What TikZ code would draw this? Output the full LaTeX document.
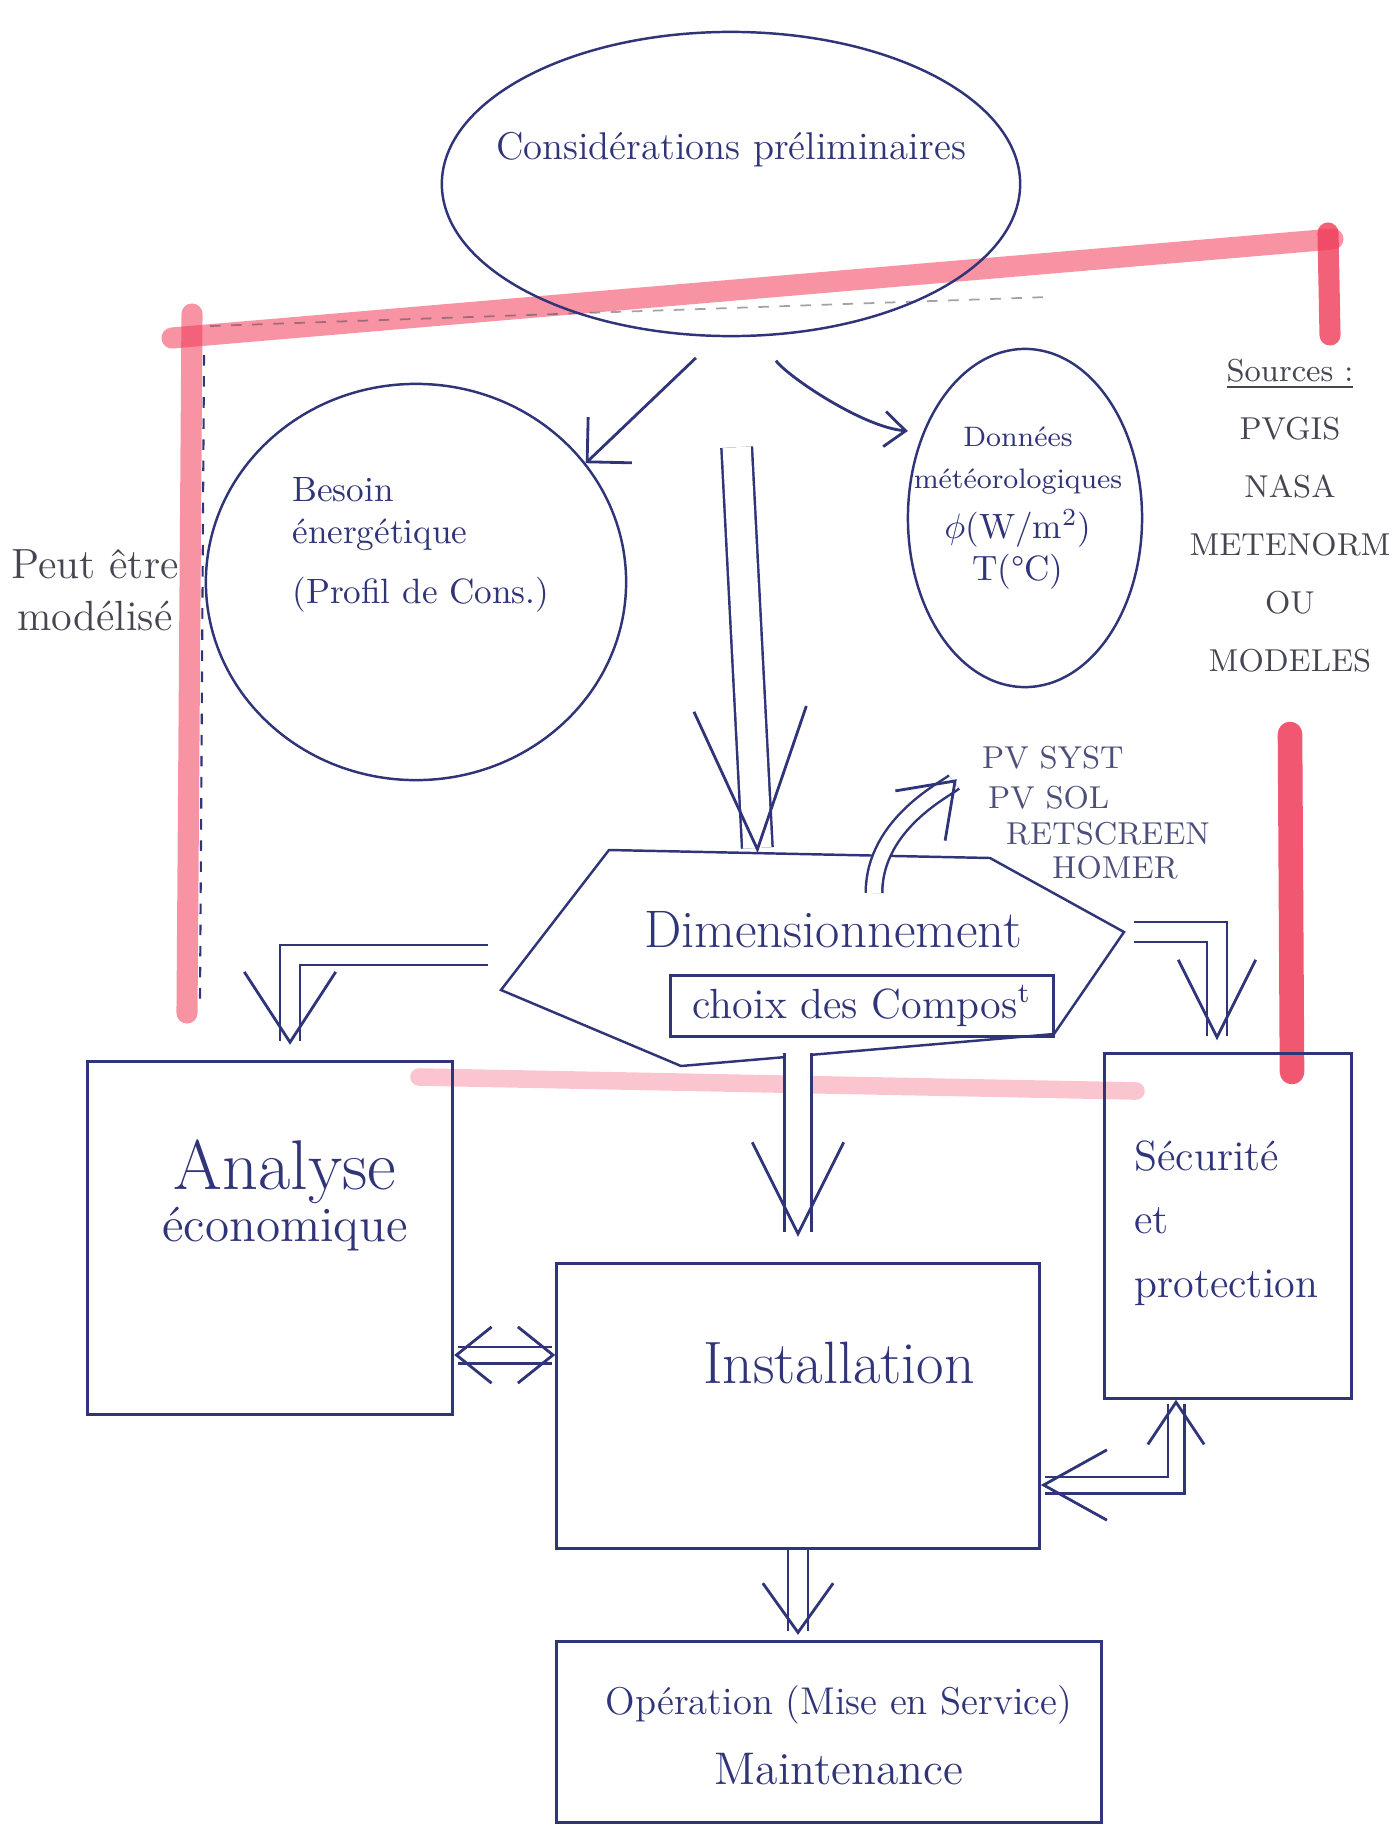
\documentclass[tikz,border=0pt]{standalone}
\usepackage{amsmath}
\usepackage{tikz}
\usetikzlibrary{arrows.meta,shapes.geometric,positioning,calc}
\definecolor{inkblue}  {RGB}{48,52,120}
\definecolor{inkgray}  {RGB}{70,70,82}
\definecolor{markred}  {RGB}{240,58,88}
\definecolor{markpink} {RGB}{246,140,160}

\begin{document}
\begin{tikzpicture}[
  x=0.01cm, y=-0.01cm,
  >=Stealth,
  hand/.style={text=inkblue,align=center},
  pencil/.style={text=inkgray,align=center},
  softlbl/.style={text=inkblue!65!gray,anchor=west,font=\fontsize{9}{11}\selectfont,inner sep=1pt},
  bubble/.style 2 args={ellipse,draw=inkblue,line width=0.7pt,minimum width=#1,
                        minimum height=#2,inner sep=0pt},
  sbox/.style 2 args={rectangle,draw=inkblue,line width=0.9pt,minimum width=#1,
                      minimum height=#2,inner sep=0pt},
  vhead/.style 2 args={Straight Barb[length=#1,width=#2,line width'=0.8pt]},
  dbl/.style={draw=inkblue,line width=0.7pt,double=white,double distance=5pt,
              -{Straight Barb[length=14pt,width=20pt,line width'=0.8pt]}},
  dblbig/.style={draw=inkblue,line width=0.7pt,double=white,double distance=8pt,
              -{Straight Barb[length=40pt,width=32pt,line width'=0.8pt]}},
  dblboth/.style={draw=inkblue,line width=0.7pt,double=white,double distance=4pt,
              {Straight Barb[length=10pt,width=16pt,line width'=0.8pt]}-{Straight Barb[length=10pt,width=16pt,line width'=0.8pt]}},
  barb/.style={draw=inkblue,line width=0.8pt,-{Straight Barb[length=9pt,width=18pt]}},
  marker/.style={draw=markred,line width=6pt,opacity=0.55,line cap=round},
]
\useasboundingbox (0,0) rectangle (1393,1827);

%% ── Red highlighter frame ────────────────────────────────────────────────────
\draw[marker] (172,338) -- (1333,239);
\draw[marker,opacity=0.8] (1328,233) -- (1330,335);
\draw[marker] (192,314) -- (187,1013);
\draw[marker,line width=7pt,opacity=0.85] (1290,734) -- (1292,1072);
\draw[marker,draw=markpink,line width=5pt,opacity=0.5] (419,1077) -- (1136,1091);
\draw[inkblue,dashed,line width=0.6pt] (204,355) -- (200,1002);
\draw[inkgray,dashed,line width=0.5pt,opacity=0.5] (210,326) -- (1048,297);

%% ── Top bubble ───────────────────────────────────────────────────────────────
\node[bubble={5.78cm}{3.04cm}] (cons) at (731,184) {};
\node[hand,font=\fontsize{11}{13}\selectfont] at (731,150) {Considérations préliminaires};

%% ── Energy needs ─────────────────────────────────────────────────────────────
\node[bubble={4.2cm}{3.96cm}] (besoin) at (416,582) {};
\node[hand,align=left,anchor=west,font=\fontsize{10}{12}\selectfont] (besointxt) at (280,545)
  {Besoin\\énergétique\\[5pt](Profil de Cons.)};

%% ── Weather data ─────────────────────────────────────────────────────────────
\node[bubble={2.34cm}{3.38cm}] (meteo) at (1025,518) {};
\node[hand,font=\fontsize{8}{12}\selectfont] (meteotxt) at (1018,508)
  {Données\\météorologiques\\[2pt]{\fontsize{10}{12}\selectfont $\phi$(W/m\textsuperscript{2})}\\
   {\fontsize{10}{12}\selectfont T(\textdegree C)}};

\node[pencil,font=\fontsize{9}{16.5}\selectfont] (sources) at (1290,516)
  {\underline{Sources :}\\PVGIS\\NASA\\METENORM\\OU\\MODELES};
\node[pencil,font=\fontsize{12}{15}\selectfont] (peut) at (95,590) {Peut être\\modélisé};

%% ── Sizing (hexagon) ─────────────────────────────────────────────────────────
\coordinate (d1) at (609,850);
\coordinate (d2) at (990,858);
\coordinate (d3) at (1124,932);
\coordinate (d4) at (1054,1034);
\coordinate (d5) at (681,1066);
\coordinate (d6) at (501,990);
\draw[inkblue,line width=0.7pt] (d1) -- (d2) -- (d3) -- (d4) -- (d5) -- (d6) -- cycle;
\node[hand,font=\fontsize{15}{18}\selectfont] (dim) at (833,930) {Dimensionnement};
\node[sbox={3.82cm}{0.61cm},hand,font=\fontsize{12}{14}\selectfont] (choix) at (862,1006)
  {choix des Compos\textsuperscript{t}};
\coordinate (dimtop) at ($(d1)!0.39!(d2)$);
\coordinate (dimleft) at ($(d6)!0.25!(d1)$);
\coordinate (dimpv) at (874,893);

%% ── Software ─────────────────────────────────────────────────────────────────
\node[softlbl] (pvsyst) at (978,758) {PV SYST};
\node[softlbl] (pvsol) at (984,798) {PV SOL};
\node[softlbl] (retscreen) at (1002,834) {RETSCREEN};
\node[softlbl] (homer) at (1048,868) {HOMER};

%% ── Boxes ────────────────────────────────────────────────────────────────────
\node[sbox={3.65cm}{3.53cm}] (analyse) at (270,1238) {};
\node[hand] (analysetxt) at (285,1195)
  {{\fontsize{20}{24}\selectfont Analyse}\\{\fontsize{14}{17}\selectfont économique}};

\node[sbox={4.82cm}{2.85cm}] (install) at (798,1406) {};
\node[hand,font=\fontsize{17}{20}\selectfont] (installtxt) at (839,1363) {Installation};

\node[sbox={2.47cm}{3.44cm}] (secu) at (1228,1226) {};
\node[hand,align=left,anchor=west,font=\fontsize{12}{18}\selectfont] (secutxt) at (1122,1223)
  {Sécurité\\et\\protection};

\node[sbox={5.44cm}{1.81cm}] (oper) at (829,1732) {};
\node[hand,font=\fontsize{11}{20}\selectfont] (opertxt) at (839,1735)
  {Opération (Mise en Service)\\{\fontsize{13}{20}\selectfont Maintenance}};

%% ── Connectors ───────────────────────────────────────────────────────────────
\draw[barb,shorten <=0.3cm] (cons.265) -- (besoin.35);
\draw[draw=inkblue,line width=0.8pt,-{Straight Barb[length=6pt,width=10pt]},shorten <=0.3cm,shorten >=0.15cm]
  (cons.280) .. controls +(30,40) and +(-60,-5) .. (meteo.140);
\draw[dblbig,shorten <=1.1cm] (cons.south) -- (dimtop);
\draw[dbl,double distance=4pt,shorten >=0.3cm] (dimpv) .. controls +(0,-70) and +(-30,30) .. (pvsyst.west);
\draw[dbl,-{Straight Barb[length=22pt,width=22pt,line width'=0.8pt]},shorten <=0.1cm,shorten >=0.12cm]
  (d3) -| ([xshift=-0.11cm]secu.north);
\draw[dbl,-{Straight Barb[length=20pt,width=26pt,line width'=0.8pt]},shorten <=0.4cm,shorten >=0.15cm]
  (dimleft) -| ([xshift=0.2cm]analyse.north);
\draw[dbl,double distance=7pt,-{Straight Barb[length=26pt,width=26pt,line width'=0.8pt]},
  shorten <=0.15cm,shorten >=0.25cm] (choix.south -| install.north) -- (install.north);
\coordinate (ai) at (0,1355);
\draw[dblboth] (analyse.east |- ai) -- (install.west |- ai);
\coordinate (is) at (1176,1485);
\draw[dblboth,{Straight Barb[length=18pt,width=20pt,line width'=0.8pt]}-{Straight Barb[length=12pt,width=16pt,line width'=0.8pt]}]
  (install.east |- is) -| (secu.south -| is);
\draw[dbl,shorten >=0.05cm] (install.south) -- (install.south |- oper.north);

\end{tikzpicture}
\end{document}
